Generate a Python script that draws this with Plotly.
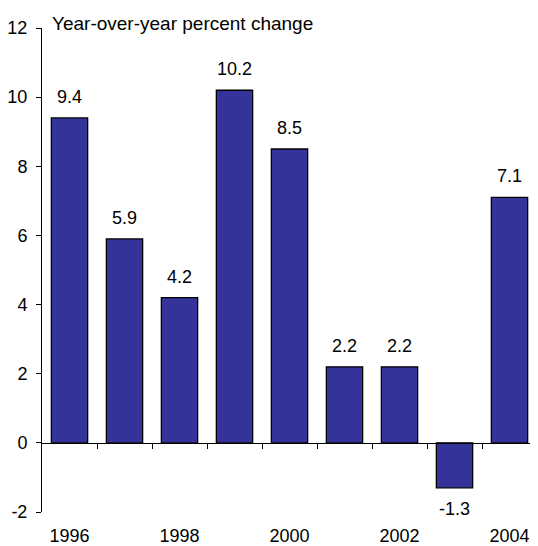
import plotly.graph_objects as go

years = ["1996", "1997", "1998", "1999", "2000", "2001", "2002", "2003", "2004"]
values = [9.4, 5.9, 4.2, 10.2, 8.5, 2.2, 2.2, -1.3, 7.1]
label_years = ["1996", "1998", "2000", "2002", "2004"]
y_ticks = [-2, 0, 2, 4, 6, 8, 10, 12]
title_text = "Year-over-year percent change"

FONT = "Liberation Sans, Arial, sans-serif"
FS = 18

idx = list(range(len(years)))

fig = go.Figure()
fig.add_trace(go.Bar(
    x=years, y=values,
    marker=dict(color="#333399", line=dict(color="black", width=1.3)),
    width=0.66, showlegend=False, hoverinfo="skip",
))
# invisible trace on the zero-line axis
fig.add_trace(go.Scatter(x=[-0.5, 8.5], y=[0, 0], xaxis="x2", mode="lines",
                         line=dict(width=0), showlegend=False, hoverinfo="skip"))

for i, v in zip(idx, values):
    fig.add_annotation(
        x=i, y=v, text=f"{v:.1f}", showarrow=False,
        yanchor="bottom" if v >= 0 else "top",
        yshift=9 if v >= 0 else -9,
        font=dict(family=FONT, size=FS, color="black"),
    )

fig.add_annotation(
    xref="paper", yref="paper", x=0.016, y=1.0, xanchor="left", yanchor="bottom",
    yshift=-8, text=title_text, showarrow=False,
    font=dict(family=FONT, size=19, color="black"),
)

fig.update_layout(
    width=530, height=538,
    margin=dict(l=34, r=1, t=20, b=34),
    paper_bgcolor="white", plot_bgcolor="white",
    font=dict(family=FONT, size=FS, color="black"),
    xaxis=dict(
        type="category", categoryorder="array", categoryarray=years,
        range=[-0.5, 8.5], automargin=False,
        tickmode="array", tickvals=label_years, ticktext=label_years,
        showline=False, ticks="", showgrid=False, zeroline=False,
        ticklabelstandoff=11,
        tickfont=dict(family=FONT, size=FS),
    ),
    xaxis2=dict(
        overlaying="x", anchor="free", position=1/7,
        range=[-0.5, 8.5], showline=True, linecolor="black", linewidth=1,
        ticks="outside", ticklen=5, tickcolor="black", tickwidth=1,
        tickmode="array", tickvals=[0.5, 1.5, 2.5, 3.5, 4.5, 5.5, 6.5, 7.5],
        showticklabels=False, showgrid=False, zeroline=False,
    ),
    yaxis=dict(
        range=[-2, 12], tickmode="array", tickvals=y_ticks,
        ticktext=[str(t) for t in y_ticks], automargin=False,
        showline=True, linecolor="black", linewidth=1,
        ticks="outside", ticklen=5, tickcolor="black",
        showgrid=False, zeroline=False, ticklabelstandoff=5,
        tickfont=dict(family=FONT, size=FS),
    ),
)

fig.write_html("out.html")
